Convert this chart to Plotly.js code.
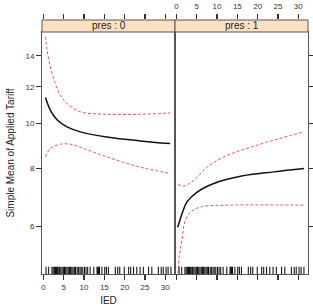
<!DOCTYPE html>
<html>
<head>
<meta charset="utf-8">
<script src="https://cdn.plot.ly/plotly-3.0.1.min.js"></script>
<style>html,body{margin:0;padding:0;background:#fff}#chart{width:313px;height:306px}</style>
</head>
<body>
<div id="chart"></div>
<script>
// ---- data ----
var panels = ["pres : 0", "pres : 1"];
var tickVals = [0, 5, 10, 15, 20, 25, 30];
var yTickVals = [6, 8, 10, 12, 14];

// pres = 0
var x0Fit   = [0.5, 1.7, 3.4, 5.8, 9.1, 15.6, 23.8, 31.2];
var fit0    = [11.38, 10.69, 10.17, 9.83, 9.59, 9.35, 9.17, 9.05];
var x0Up    = [0.5, 0.9, 1.7, 2.9, 4.2, 5.8, 9.1, 15.6, 23.8, 31.2];
var upper0  = [15.4, 14.41, 13.26, 12.21, 11.5, 11.05, 10.6, 10.47, 10.47, 10.54];
var x0Lo    = [0.5, 1.7, 4.2, 6.6, 9.9, 15.6, 23.8, 31.2];
var lower0  = [8.47, 8.83, 9.02, 9.02, 8.83, 8.47, 8.05, 7.80];

// pres = 1
var x1Fit   = [0.32, 1.4, 2.6, 5.1, 9.2, 15.8, 24.0, 31.4];
var fit1    = [5.97, 6.39, 6.77, 7.11, 7.42, 7.69, 7.86, 7.99];
var x1Up    = [0.4, 1.8, 4.3, 7.6, 11.7, 19.9, 31.4];
var upper1  = [7.38, 7.32, 7.54, 8.05, 8.47, 8.98, 9.59];
var x1Lo    = [0.15, 0.7, 1.4, 2.2, 3.5, 5.9, 11.7, 31.4];
var lower1  = [4.4, 5.15, 5.64, 6.18, 6.44, 6.60, 6.66, 6.66];

// rug (observed IED values)
var rugIED = [0.65, 1.3, 2.1, 2.4, 2.7, 3.0, 3.2, 3.5, 3.8, 4.0, 4.3, 4.6, 4.9, 5.2, 5.5, 5.8, 6.1, 6.4, 6.7, 7.0, 7.3, 7.6, 7.9, 8.3, 8.6, 9.0, 9.3, 9.7, 10.1, 10.5, 10.9, 11.5, 12.4, 13.2, 13.4, 13.6, 13.8, 14.4, 15.1, 15.5, 16.0, 17.7, 18.3, 18.8, 19.9, 21.0, 21.5, 22.2, 23.0, 23.8, 24.6, 25.9, 26.7, 28.3, 29.0, 29.5, 30.2, 30.7, 31.4];

// ---- styling ----
var xRange = [-0.35, 32.4];
var yRange = [Math.log10(4.73), Math.log10(15.76)];
var rugY = Math.pow(10, yRange[0] + 0.0125 * (yRange[1] - yRange[0]));
var ciCol = '#e8506a';
var axCol = '#555555';
var tkCol = '#333333';
var stripCol = '#ffe0c0';
var fnt = 'Liberation Sans, Arial, Helvetica, sans-serif';
var yTop = 242 / 254;

function line(x, y, xa, ya, dashed) {
  return {x: x, y: y, xaxis: xa, yaxis: ya, mode: 'lines', type: 'scatter',
    line: dashed ? {color: ciCol, width: 1, dash: '3px,2px', shape: 'spline', smoothing: 1}
                 : {color: '#111', width: 1.5, shape: 'spline', smoothing: 1},
    hoverinfo: 'skip', showlegend: false};
}
function rug(xa, ya) {
  return {x: rugIED, y: rugIED.map(function(){return rugY;}), xaxis: xa, yaxis: ya,
    mode: 'markers', type: 'scatter',
    marker: {symbol: 'line-ns-open', size: 6, color: '#000', line: {color: '#000', width: 1}},
    hoverinfo: 'skip', showlegend: false};
}
function dummy(xa, ya) {
  return {x: [10], y: [0.5], xaxis: xa, yaxis: ya, mode: 'markers', type: 'scatter',
    marker: {opacity: 0}, hoverinfo: 'skip', showlegend: false};
}

var traces = [
  line(x0Up, upper0, 'x', 'y', true),
  line(x0Lo, lower0, 'x', 'y', true),
  line(x0Fit, fit0, 'x', 'y', false),
  rug('x', 'y'),
  line(x1Up, upper1, 'x2', 'y2', true),
  line(x1Lo, lower1, 'x2', 'y2', true),
  line(x1Fit, fit1, 'x2', 'y2', false),
  rug('x2', 'y2'),
  dummy('x3', 'y3'),
  dummy('x4', 'y4')
];

var tickfont = {family: fnt, size: 8, color: '#333'};
var baseX = {range: xRange, tickvals: tickVals, ticks: 'outside', ticklen: 5, tickcolor: tkCol,
  tickwidth: 1.1, showgrid: false, zeroline: false, tickfont: tickfont, fixedrange: true};
function ext(o, e) { var r = {}; for (var k in o) r[k] = o[k]; for (var k2 in e) r[k2] = e[k2]; return r; }
var stripY = {domain: [yTop, 1], range: [0, 1], showticklabels: false, showline: false, showgrid: false,
  zeroline: false, ticks: '', fixedrange: true};

var layout = {
  width: 313, height: 306,
  margin: {l: 42, r: 5, t: 20, b: 32, pad: 0},
  paper_bgcolor: '#fff', plot_bgcolor: 'rgba(0,0,0,0)',
  showlegend: false,
  font: {family: fnt, size: 10, color: '#222'},
  xaxis: ext(baseX, {domain: [0, 0.5], anchor: 'y', showline: true, mirror: true, linecolor: axCol,
    title: {text: 'IED', font: {family: fnt, size: 10, color: '#222'}, standoff: 6}}),
  xaxis2: ext(baseX, {domain: [0.5, 1], anchor: 'y2', showline: true, mirror: true, linecolor: axCol,
    showticklabels: false}),
  xaxis3: ext(baseX, {domain: [0, 0.5], anchor: 'y3', side: 'top', showticklabels: false, showline: false}),
  xaxis4: ext(baseX, {domain: [0.5, 1], anchor: 'y4', side: 'top', showticklabels: true, showline: false,
    ticklabelstandoff: 2}),
  yaxis3: ext(stripY, {anchor: 'x3'}),
  yaxis4: ext(stripY, {anchor: 'x4'}),
  yaxis: {domain: [0, yTop], anchor: 'x', type: 'log', range: yRange, tickvals: yTickVals,
    ticktext: yTickVals.map(String), ticks: 'outside', ticklen: 5, tickcolor: tkCol, tickwidth: 1.1,
    showline: true, mirror: true, linecolor: axCol, showgrid: false, zeroline: false,
    tickfont: tickfont, fixedrange: true,
    title: {text: 'Simple Mean of Applied Tariff', font: {family: fnt, size: 10, color: '#222'}, standoff: 8}},
  yaxis2: {domain: [0, yTop], anchor: 'x2', side: 'right', type: 'log', range: yRange, tickvals: yTickVals,
    ticks: 'outside', ticklen: 5, tickcolor: tkCol, tickwidth: 1.1, showticklabels: false,
    showline: true, mirror: true, linecolor: axCol, showgrid: false, zeroline: false, fixedrange: true},
  shapes: [
    {type: 'rect', xref: 'paper', yref: 'paper', x0: 0, x1: 0.5, y0: yTop, y1: 1,
     fillcolor: stripCol, line: {color: axCol, width: 1}, layer: 'above'},
    {type: 'rect', xref: 'paper', yref: 'paper', x0: 0.5, x1: 1, y0: yTop, y1: 1,
     fillcolor: stripCol, line: {color: axCol, width: 1}, layer: 'above'}
  ],
  annotations: [
    {xref: 'paper', yref: 'paper', x: 0.25, y: (1 + yTop) / 2, text: panels[0], showarrow: false,
     font: {family: fnt, size: 10, color: '#222'}, xanchor: 'center', yanchor: 'middle'},
    {xref: 'paper', yref: 'paper', x: 0.75, y: (1 + yTop) / 2, text: panels[1], showarrow: false,
     font: {family: fnt, size: 10, color: '#222'}, xanchor: 'center', yanchor: 'middle'}
  ]
};

Plotly.newPlot('chart', traces, layout, {staticPlot: true, displayModeBar: false});
</script>
</body>
</html>
